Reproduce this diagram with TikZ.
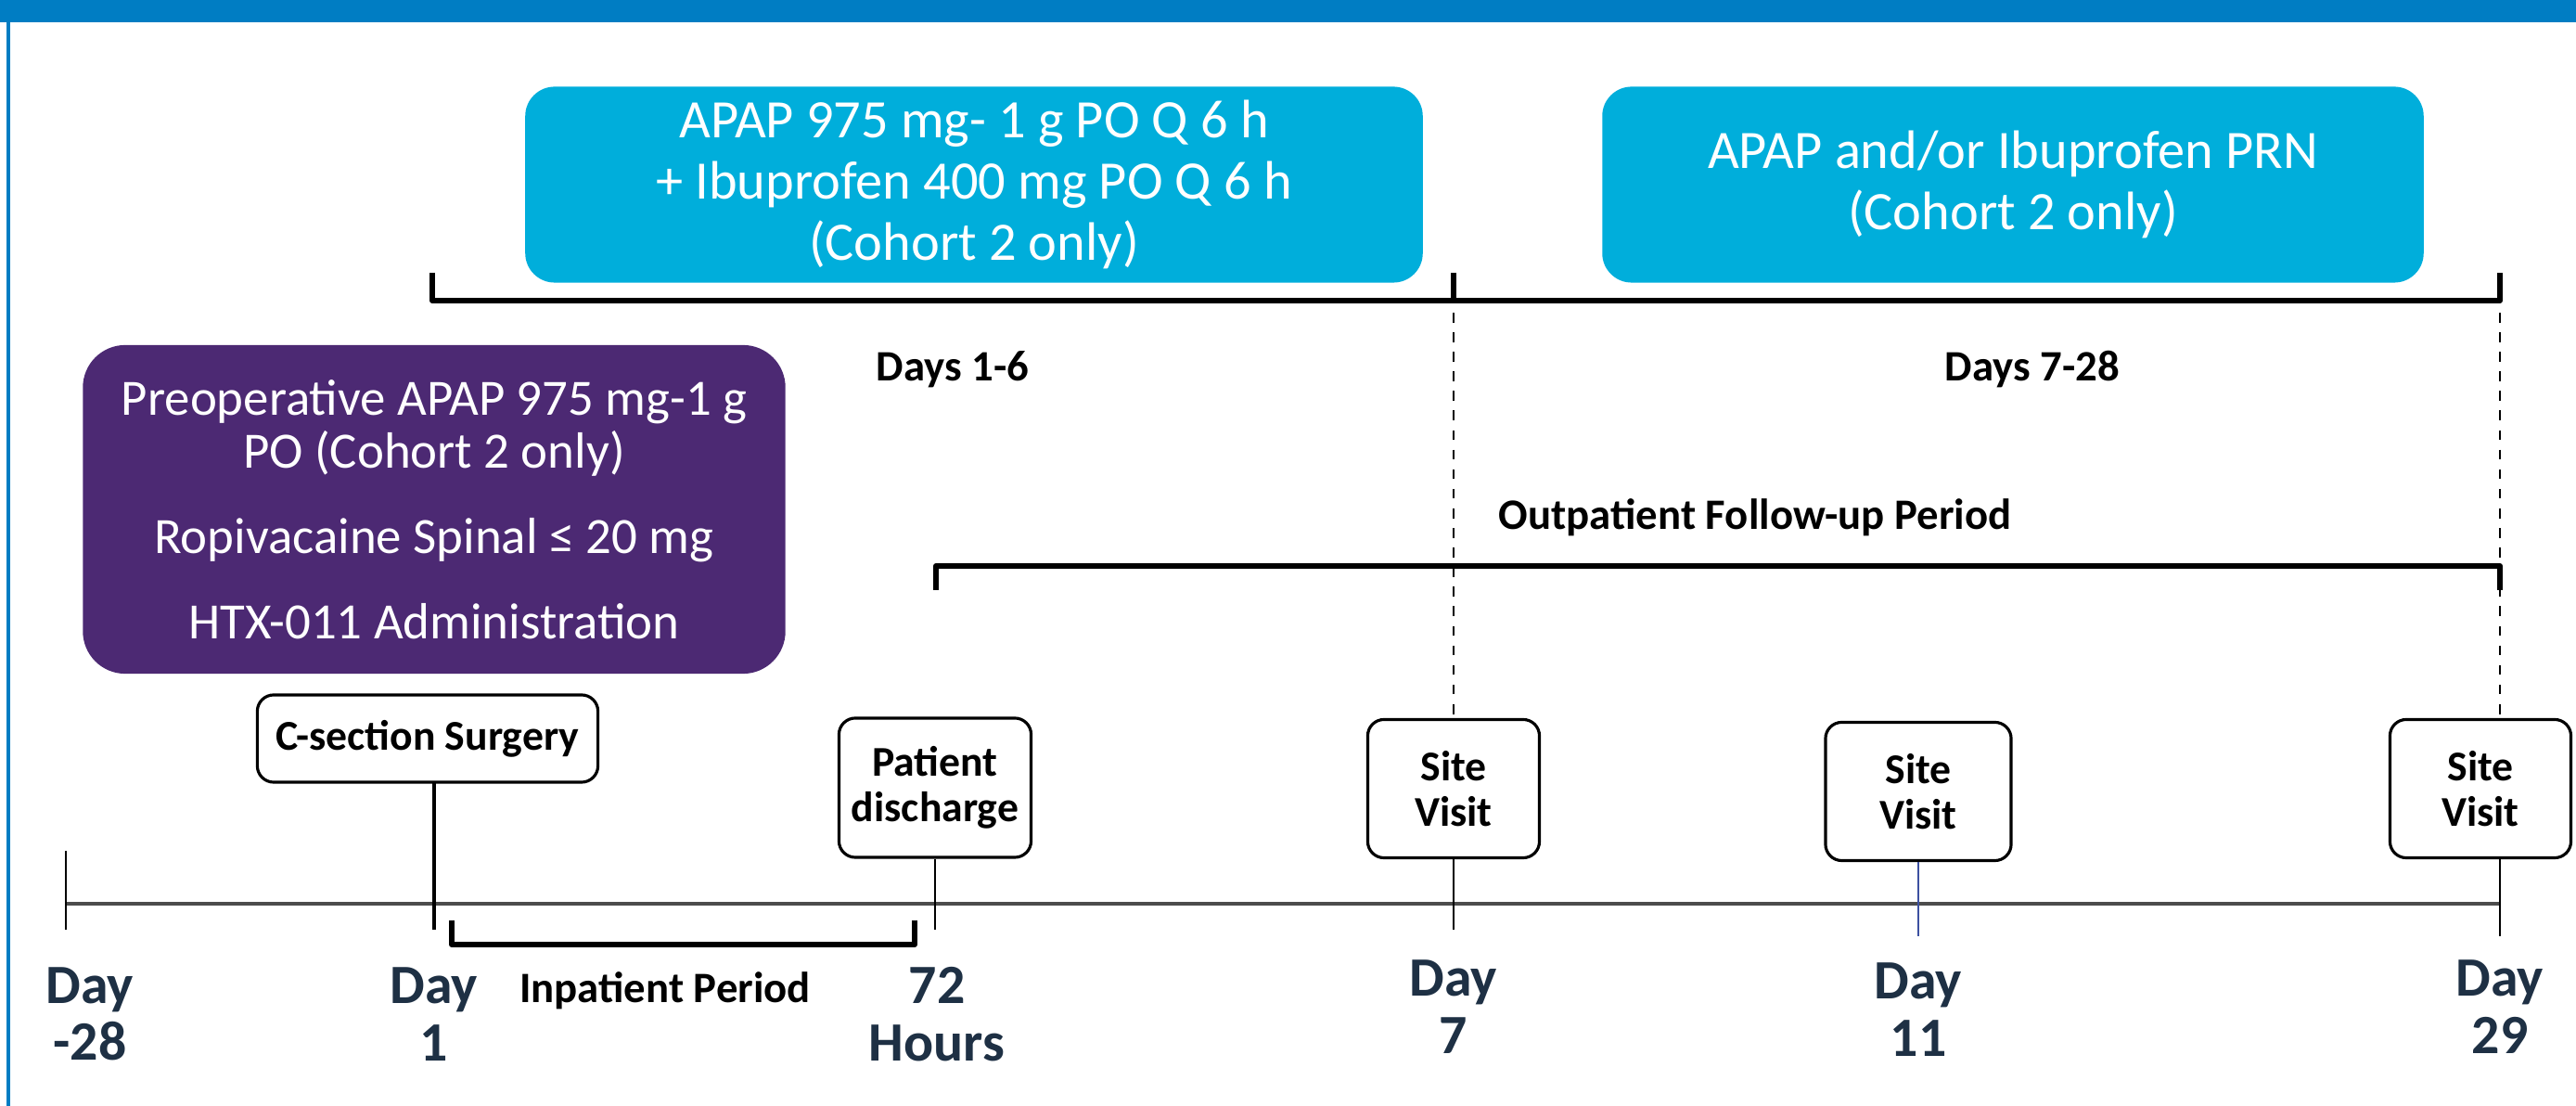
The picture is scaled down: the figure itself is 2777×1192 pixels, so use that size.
\documentclass[tikz,border=0pt]{standalone}
\usepackage{fontspec}
\setmainfont{Carlito}
\usetikzlibrary{positioning}
\definecolor{hdrblue}{RGB}{0,125,195}
\definecolor{drugcyan}{RGB}{0,174,219}
\definecolor{opviolet}{RGB}{76,41,115}
\definecolor{daynavy}{RGB}{30,48,68}
\definecolor{tickblue}{RGB}{60,80,160}
\begin{document}
\begin{tikzpicture}[
  x=0.01cm, y=-0.01cm,
  every node/.style={align=center, inner sep=0pt},
  drugbox/.style={fill=drugcyan, rounded corners=9pt, text=white, minimum height=2.11cm, font=\fontsize{16.6}{18.7}\selectfont},
  periopbox/.style={fill=opviolet, rounded corners=13pt, text=white, minimum width=7.57cm, minimum height=3.54cm, font=\fontsize{15.6}{16.2}\selectfont},
  eventbox/.style={draw, line width=0.9pt, rounded corners=5pt, font=\bfseries\fontsize{13}{14}\selectfont},
  daylabel/.style={text=daynavy, font=\bfseries\fontsize{17}{17.5}\selectfont},
  spanlabel/.style={font=\bfseries\fontsize{13.3}{14}\selectfont},
  bracket/.style={draw, line width=1.7pt, line join=round},
  tick/.style={draw, line width=0.5pt},
  guide/.style={draw, dashed, line width=0.5pt}
]
\useasboundingbox (0,0) rectangle (2777,1192);
% frame
\fill[hdrblue] (0,0) rectangle (2777,24);
\draw[hdrblue, line width=1.4pt] (9,24) -- (9,1192);

% drug regimens
\node[drugbox, minimum width=9.67cm] (sched) at (1050,199)
  {APAP 975 mg- 1 g PO Q 6 h\\+ Ibuprofen 400 mg PO Q 6 h\\(Cohort 2 only)};
\node[drugbox, minimum width=8.85cm] (prn) at (2170,199)
  {APAP and/or Ibuprofen PRN\\(Cohort 2 only)};
\node[periopbox] (preop) at (468,549)
  {Preoperative APAP 975 mg-1 g\\PO (Cohort 2 only)\\[10pt]Ropivacaine Spinal ≤ 20 mg\\[10pt]HTX-011 Administration};

% period brackets
\coordinate (b1) at (466,324);
\coordinate (b7) at (1567,324);
\coordinate (b29) at (2695,324);
\draw[bracket] (466,294) -- (b1) -- (b7) -- (1567,294);
\draw[bracket] (b7) -- (b29) -- (2695,294);
\node[spanlabel] (d16) at (1027,398) {Days 1-6};
\node[spanlabel] (d728) at (2191,398) {Days 7-28};
\node[spanlabel] (outp) at (1892,558) {Outpatient Follow-up Period};
\draw[bracket] (1009,636) -- (1009,610) -- (2695,610) -- (2695,636);

% events
\node[eventbox, minimum width=3.67cm, minimum height=0.94cm] (csec) at (461,796) {C-section Surgery};
\node[eventbox, minimum width=2.07cm, minimum height=1.50cm] (disch) at (1008,849) {Patient\\discharge};
\node[eventbox, minimum width=1.85cm, minimum height=1.49cm] (sv7) at (1567,850) {Site\\Visit};
\node[eventbox, minimum width=2.00cm, minimum height=1.49cm] (sv11) at (2068,853) {Site\\Visit};
\node[eventbox, minimum width=1.95cm, minimum height=1.49cm] (sv29) at (2674,850) {Site\\Visit};

\draw[guide] (1567,337) -- (sv7.north);
\draw[guide] (2695,337) -- (2695,776);

% timeline
\coordinate (t0) at (71,974);
\coordinate (tend) at (2695,974);
\draw[black!70, line width=1.2pt] (t0) -- (tend);
\draw[tick] (71,917) -- (71,1002);
\draw[line width=1pt] (468,843) -- (468,1002);
\draw[tick] (disch.south) -- (1008,1002);
\draw[tick] (sv7.south) -- (1567,1002);
\draw[tickblue, line width=0.5pt] (sv11.south) -- (2068,1009);
\draw[tick] (2695,925) -- (2695,1009);
\draw[bracket] (487,992) -- (487,1018) -- (986,1018) -- (986,992);

% day labels
\node[daylabel] (dm28) at (97,1093) {Day\\-28};
\node[daylabel] (dd1) at (468,1093) {Day\\1};
\node[spanlabel] (inp) at (717,1068) {Inpatient Period};
\node[daylabel] (h72) at (1010,1093) {72\\Hours};
\node[daylabel] (dd7) at (1567,1085) {Day\\7};
\node[daylabel] (dd11) at (2068,1088) {Day\\11};
\node[daylabel] (dd29) at (2695,1085) {Day\\29};
\end{tikzpicture}
\end{document}
